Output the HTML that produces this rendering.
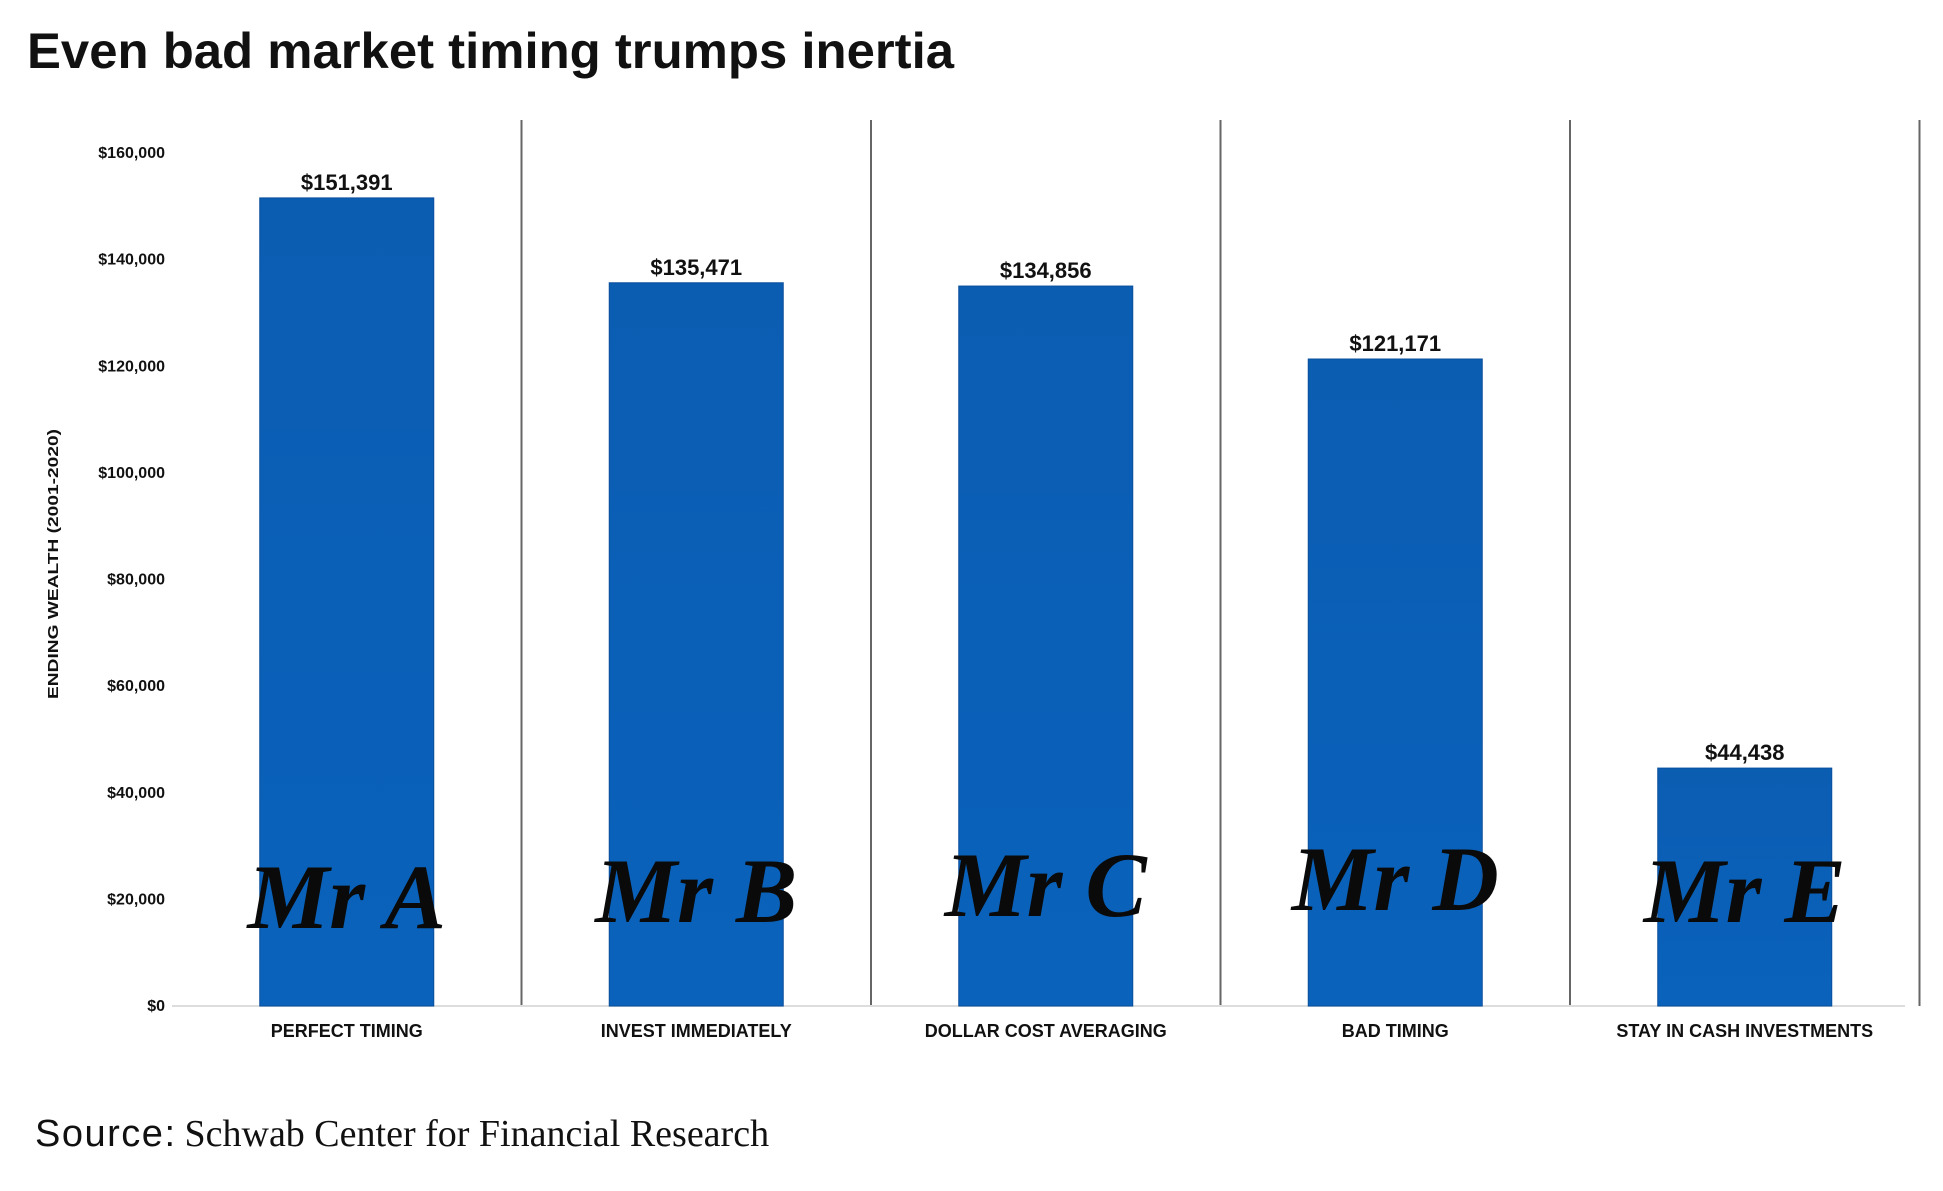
<!DOCTYPE html>
<html><head><meta charset="utf-8"><style>
html,body{margin:0;padding:0;background:#fff;}
svg{display:block;}
</style></head><body>
<svg id="chart" width="1943" height="1191" viewBox="0 0 1943 1191" xmlns="http://www.w3.org/2000/svg">
<defs>
<linearGradient id="barGrad" x1="0" y1="0" x2="0" y2="1">
<stop offset="0" stop-color="#0b5db2"/><stop offset="1" stop-color="#0a62bb"/>
</linearGradient>
</defs>
<text x="27" y="68" font-family="Liberation Sans, sans-serif" font-weight="bold" font-size="50" textLength="927" lengthAdjust="spacingAndGlyphs" fill="#111">Even bad market timing trumps inertia</text>
<text transform="translate(58,564) rotate(-90)" text-anchor="middle" font-family="Liberation Sans, sans-serif" font-weight="bold" font-size="15" fill="#111" textLength="270" lengthAdjust="spacingAndGlyphs">ENDING WEALTH (2001-2020)</text>
<g id="yticks"></g>
<g id="dividers"></g>
<line x1="172" y1="1006" x2="1905" y2="1006" stroke="#ddd" stroke-width="2"/>
<g id="bars"></g>
<text x="35" y="1146" font-size="38" fill="#111"><tspan font-family="Liberation Sans, sans-serif" textLength="140">Source:</tspan><tspan font-family="Liberation Serif, serif" dx="8">Schwab Center for Financial Research</tspan></text>
</svg>
<script>
const categories = ["PERFECT TIMING","INVEST IMMEDIATELY","DOLLAR COST AVERAGING","BAD TIMING","STAY IN CASH INVESTMENTS"];
const values = [151391,135471,134856,121171,44438];
const valueLabels = ["$151,391","$135,471","$134,856","$121,171","$44,438"];
const personLabels = ["Mr A","Mr B","Mr C","Mr D","Mr E"];
const tickValues = [0,20000,40000,60000,80000,100000,120000,140000,160000];
const tickLabels = ["$0","$20,000","$40,000","$60,000","$80,000","$100,000","$120,000","$140,000","$160,000"];

const NS = "http://www.w3.org/2000/svg";
const yZero = 1005, yTop = 152, vMax = 160000;
const y = v => yZero - (yZero - yTop) * v / vMax;
const bandStart = 172, bandW = 349.5, barW = 174;
const xc = i => bandStart + bandW * (i + 0.5);
function mk(tag, attrs, parent, text){
  const e = document.createElementNS(NS, tag);
  for (const k in attrs) e.setAttribute(k, attrs[k]);
  if (text !== undefined) e.textContent = text;
  parent.appendChild(e); return e;
}
const yt = document.getElementById('yticks');
tickValues.forEach((v,i)=>{
  const t = mk('text',{x:165,y:y(v)+6,'text-anchor':'end','font-family':'Liberation Sans, sans-serif','font-weight':'bold','font-size':'16',fill:'#111'},yt,tickLabels[i]);
  
  
});
const dv = document.getElementById('dividers');
for (let i=1;i<=categories.length;i++){
  const l = mk('line',{x1:bandStart+bandW*i,x2:bandStart+bandW*i,y1:120,y2:1006,stroke:'#666','stroke-width':2},dv);
  
  
}
const bg = document.getElementById('bars');
const mrOffsets = [0,-6,-12,-18,-6];
categories.forEach((c,i)=>{
  const cx = xc(i);
  const r = mk('rect',{x:cx-barW/2,y:y(values[i]),width:barW,height:yZero+1-y(values[i]),fill:'url(#barGrad)',stroke:'#0a4f9c','stroke-width':1},bg);
  
  
  const vl = mk('text',{x:cx,y:y(values[i])-8,'text-anchor':'middle','font-family':'Liberation Sans, sans-serif','font-weight':'bold','font-size':'22',fill:'#111'},bg,valueLabels[i]);
  
  
  const pl = mk('text',{x:cx,y:928+mrOffsets[i],'text-anchor':'middle','font-family':'Liberation Serif, serif','font-weight':'bold','font-style':'italic','font-size':'92',fill:'#0a0a0a'},bg,personLabels[i]);
  
  
  const cl = mk('text',{x:cx,y:1037,'text-anchor':'middle','font-family':'Liberation Sans, sans-serif','font-weight':'bold','font-size':'18',fill:'#111'},bg,c);
  
  
});
</script>
</body></html>
